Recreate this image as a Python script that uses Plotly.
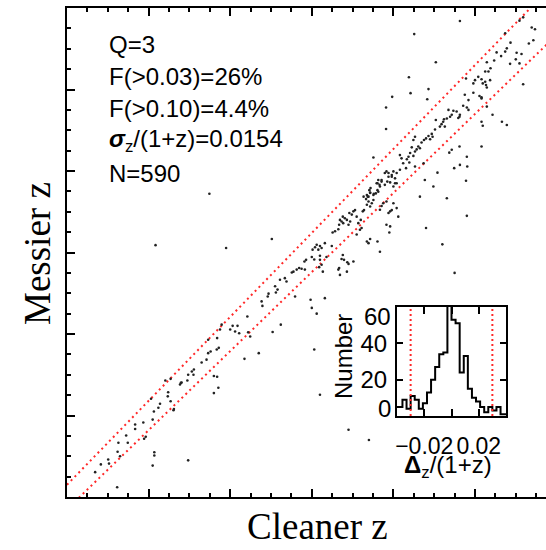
import numpy as np
import plotly.graph_objects as go

# ---------------- data ----------------
cleaner_z = [
    0.069,0.083,0.101,0.103,0.123,0.124,0.126,0.130,0.145,0.149,
    0.167,0.167,0.187,0.189,0.193,0.206,0.210,0.210,0.214,0.214,
    0.213,0.224,0.228,0.241,0.247,0.248,0.254,0.261,0.262,0.277,
    0.281,0.297,0.295,0.360,0.371,
    0.349,0.217,0.390,0.502,0.254,0.279,0.297,0.306,0.311,0.310,
    0.330,0.342,0.346,0.352,0.346,0.360,0.368,0.367,0.372,0.368,
    0.379,0.375,0.400,0.406,0.412,0.418,0.422,0.435,0.442,0.444,
    0.449,0.470,0.479,0.477,0.494,0.492,0.504,0.510,0.512,0.516,
    0.522,0.524,0.534,0.538,0.551,0.555,0.559,0.563,0.569,0.575,
    0.582,0.586,0.583,0.600,0.602,0.597,0.600,0.612,0.606,0.606,
    0.608,0.612,0.616,0.620,0.624,0.620,0.620,0.618,0.624,0.627,
    0.632,0.620,0.636,0.632,0.649,0.651,0.657,0.665,0.667,0.673,
    0.676,0.679,0.669,0.686,0.687,0.690,0.702,0.667,0.665,0.669,
    0.673,0.677,0.681,0.686,0.676,0.690,0.692,0.694,0.698,0.702,
    0.706,0.710,0.714,0.722,0.720,0.725,0.728,0.735,0.733,0.737,
    0.739,0.743,0.747,0.751,0.743,0.741,0.744,0.751,0.757,0.761,
    0.759,0.763,0.766,0.771,0.767,0.771,0.775,0.783,0.788,0.792,
    0.796,0.800,0.790,0.735,0.739,0.743,0.767,0.761,0.718,0.710,
    0.779,0.783,0.788,0.796,0.804,0.808,0.800,0.808,0.812,0.783,0.792,
    0.963,0.851,0.904,0.838,0.886,0.842,0.797,0.883,0.782,0.782,
    0.751,1.139,1.147,1.132,1.143,1.087,1.078,1.074,1.053,1.064,
    1.102,1.114,1.086,1.100,1.109,1.118,1.029,1.038,1.025,1.033,
    1.016,1.025,1.037,1.019,1.029,1.000,0.996,1.008,0.978,0.975,
    0.996,1.011,1.016,0.984,0.971,0.980,0.984,0.963,0.955,0.947,
    0.943,0.935,0.931,0.924,0.918,0.914,0.926,0.922,0.939,0.959,
    0.962,0.904,0.902,0.894,0.896,0.886,0.880,0.890,0.875,0.869,
    0.853,0.849,0.861,0.865,0.857,0.853,0.845,0.841,0.849,0.837,
    0.833,0.824,0.839,0.853,0.831,0.816,0.808,0.800,0.796,0.788,
    0.785,0.792,0.804,0.779,0.771,0.767,0.761,0.763,0.752,0.743,
    0.739,0.735,0.727,0.816,0.820,0.874,0.877,0.898,0.865,0.908,
    0.931,0.978,0.962,0.937,0.943,0.949,0.963,0.980,0.981,1.016,
    1.016,1.019,1.043,1.066,1.078,
    1.109,1.118,1.047,1.027,1.029,1.016,1.074,
    0.920,0.950,0.980,0.880,0.690,0.740,
]
messier_z = [
    0.061,0.080,0.092,0.082,0.024,0.111,0.133,0.100,0.151,0.133,
    0.178,0.167,0.183,0.143,0.148,0.241,0.190,0.077,0.110,0.102,
    0.210,0.219,0.229,0.286,0.247,0.257,0.235,0.213,0.216,0.276,
    0.281,0.090,0.286,0.255,0.268,
    0.744,0.618,0.611,0.633,0.290,0.280,0.300,0.308,0.313,0.300,
    0.330,0.337,0.353,0.357,0.386,0.297,0.295,0.362,0.366,0.390,
    0.423,0.411,0.411,0.420,0.406,0.420,0.402,0.339,0.443,0.404,
    0.394,0.353,0.469,0.480,0.499,0.492,0.405,0.517,0.502,0.509,
    0.533,0.423,0.537,0.529,0.551,0.553,0.492,0.558,0.562,0.560,
    0.578,0.582,0.558,0.589,0.607,0.484,0.464,0.450,0.362,0.583,
    0.613,0.619,0.607,0.616,0.611,0.592,0.582,0.564,0.570,0.553,
    0.488,0.251,0.589,0.623,0.616,0.649,0.652,0.558,0.562,0.584,
    0.594,0.582,0.545,0.553,0.576,0.572,0.578,0.668,0.657,0.680,
    0.676,0.672,0.684,0.680,0.688,0.668,0.697,0.676,0.693,0.701,
    0.704,0.688,0.672,0.660,0.680,0.701,0.704,0.717,0.731,0.737,
    0.725,0.713,0.721,0.729,0.746,0.753,0.758,0.741,0.745,0.753,
    0.770,0.778,0.766,0.774,0.705,0.714,0.721,0.725,0.697,0.701,
    0.704,0.721,0.649,0.627,0.623,0.633,0.602,0.627,0.656,0.644,
    0.795,0.799,0.786,0.790,0.782,0.770,0.762,0.709,0.688,0.668,0.664,
    1.168,1.136,1.067,1.030,1.001,0.991,0.982,0.976,0.956,0.903,
    0.833,1.152,1.148,1.113,1.121,1.115,1.101,1.093,1.091,1.082,
    1.090,1.087,1.063,1.074,1.064,1.013,1.067,1.052,1.044,1.044,
    1.025,1.019,1.023,1.015,1.005,1.023,1.015,1.031,1.027,0.987,
    0.992,0.984,0.981,0.974,0.960,0.956,0.950,0.938,0.946,0.948,
    0.938,0.950,0.929,0.927,0.915,0.909,0.909,0.921,0.933,0.930,
    0.933,0.925,0.902,0.891,0.884,0.886,0.880,0.878,0.876,0.870,
    0.884,0.876,0.860,0.856,0.853,0.848,0.858,0.844,0.837,0.835,
    0.829,0.819,0.821,0.811,0.807,0.803,0.795,0.799,0.786,0.795,
    0.774,0.772,0.770,0.766,0.778,0.762,0.770,0.749,0.744,0.747,
    0.737,0.741,0.737,0.839,0.831,0.819,0.778,0.762,0.737,0.796,
    0.733,0.776,0.860,0.845,0.852,0.807,0.815,0.835,0.811,0.860,
    0.921,0.911,0.938,0.921,0.913,
    1.169,1.177,1.071,1.011,0.958,0.978,1.138,
    0.620,0.550,0.690,0.660,0.165,0.140,
]

# histogram of dz/(1+z): bin left edges (width 0.003) and counts
hist_left = [round(k * 0.003, 3) for k in range(-14, 14)]
hist_counts = [5, 5, 9, 4, 11, 9, 4, 7, 13, 20, 27, 34, 35, 70,
               53, 51, 24, 33, 15, 10, 8, 5, 2, 5, 3, 5, 1, 1]
outlier_cut = 0.03

stats_lines = ["Q=3", "F(>0.03)=26%", "F(>0.10)=4.4%",
               "<b><i>σ</i></b><sub>z</sub>/(1+z)=0.0154", "N=590"]

# ---------------- figure ----------------
W, H = 546, 550
L, R, T, B = 67, 0, 8, 53
PW, PH = W - L - R, H - T - B


def px(x):  # pixel x -> paper x (plot-area fraction)
    return (x - L) / PW


def py(y):  # pixel y (from top) -> paper y
    return (H - B - y) / PH


fig = go.Figure()
sans = "Liberation Sans"
serif = "Liberation Serif"
red = "rgb(255,40,40)"

xl = np.array([0.0, 1.3])
for sgn in (1, -1):
    fig.add_trace(go.Scatter(x=xl, y=xl + sgn * outlier_cut * (1 + xl), mode="lines",
                             line=dict(color=red, width=2, dash="2px,3.5px"),
                             hoverinfo="skip", showlegend=False))
fig.add_trace(go.Scatter(x=cleaner_z, y=messier_z, mode="markers",
                         marker=dict(size=2.6, color="#222222"),
                         showlegend=False))

edges_x = hist_left + [round(hist_left[-1] + 0.003, 3)]
edges_y = hist_counts + [hist_counts[-1]]
fig.add_trace(go.Scatter(x=edges_x, y=edges_y, mode="lines",
                         line=dict(color="black", width=2, shape="hv"),
                         xaxis="x2", yaxis="y2", showlegend=False))
for v in (-outlier_cut, outlier_cut):
    fig.add_trace(go.Scatter(x=[v, v], y=[0, 60], mode="lines",
                             line=dict(color=red, width=2, dash="2px,3px"),
                             xaxis="x2", yaxis="y2", showlegend=False))

axis_common = dict(showgrid=False, zeroline=False, showline=True,
                   linecolor="black", linewidth=2, ticks="inside",
                   tickcolor="black", showticklabels=False)
minor = dict(dtick=0.05, ticklen=4, tickwidth=1.5, ticks="inside", tickcolor="black")

fig.update_layout(
    width=W, height=H,
    margin=dict(l=L, r=R, t=T, b=B, pad=0),
    paper_bgcolor="white", plot_bgcolor="white",
    showlegend=False,
    xaxis=dict(**axis_common, range=[0, PW / 408], mirror="ticks",
               tick0=0, dtick=0.2, ticklen=8, tickwidth=2, minor=minor),
    yaxis=dict(**axis_common, range=[0, 1.2], mirror=False,
               tick0=0, dtick=0.2, ticklen=8, tickwidth=2, minor=minor),
    xaxis2=dict(showgrid=False, zeroline=False, showline=True,
                linecolor="black", linewidth=2, mirror="ticks",
                ticks="inside", ticklen=7, tickwidth=2, tickcolor="black",
                domain=[px(397), px(506)], anchor="y2",
                range=[-0.04, 0.04], tickangle=0,
                tickvals=[-0.02, 0, 0.02], ticktext=["−0.02", "", "0.02"],
                ticklabelstandoff=8,
                tickfont=dict(family=sans, size=23, color="black")),
    yaxis2=dict(showgrid=False, zeroline=False, showline=True,
                linecolor="black", linewidth=2, mirror="ticks",
                ticks="inside", ticklen=6, tickwidth=2, tickcolor="black",
                domain=[py(416), py(307)], anchor="x2",
                range=[0, 60],
                tickvals=[0, 20, 40, 60], ticktext=["", "20", "40", ""],
                ticklabelstandoff=3,
                tickfont=dict(family=sans, size=24, color="black")),
)

ann = []
ys = [45, 77, 108, 140, 173]
for txt, yp in zip(stats_lines, ys):
    ann.append(dict(text=txt, x=px(107), y=py(yp), xref="paper", yref="paper",
                    xanchor="left", yanchor="middle", showarrow=False,
                    font=dict(family=sans, size=24, color="black")))
for lab, yv in (("0", 3.9), ("60", 55.0)):
    ann.append(dict(text=lab, x=0, y=yv, xref="x2 domain", yref="y2",
                    xanchor="right", yanchor="middle", xshift=-4, showarrow=False,
                    font=dict(family=sans, size=24, color="black")))
ann.append(dict(text="<b>Δ</b><sub>z</sub>/(1+z)", x=px(448), y=py(466),
                xref="paper", yref="paper", xanchor="center", yanchor="middle",
                showarrow=False, font=dict(family=sans, size=24, color="black")))
ann.append(dict(text="Number", x=px(343), y=py(357), textangle=-90,
                xref="paper", yref="paper", xanchor="center", yanchor="middle",
                showarrow=False, font=dict(family=sans, size=24, color="black")))
ann.append(dict(text="Cleaner z", x=px(317), y=py(549), xref="paper", yref="paper",
                xanchor="center", yanchor="bottom", showarrow=False,
                font=dict(family=serif, size=37, color="black")))
ann.append(dict(text="Messier z", x=px(37), y=py(254), textangle=-90,
                xref="paper", yref="paper", xanchor="center", yanchor="middle",
                showarrow=False, font=dict(family=serif, size=37, color="black")))
fig.update_layout(annotations=ann)

fig.write_html("out.html")
